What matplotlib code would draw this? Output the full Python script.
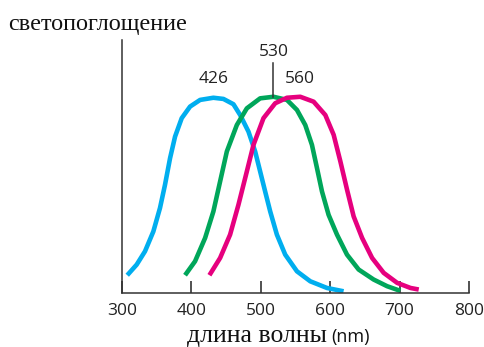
import matplotlib
matplotlib.use("Agg")
import matplotlib.pyplot as plt
import numpy as np

# ---------------------------------------------------------------------------
# Data (wavelength nm, relative absorbance)
# ---------------------------------------------------------------------------

BLUE_NM = [307.6, 321.2, 333.2, 345.2, 354.8, 362.0, 369.3, 376.5, 386.1,
           398.1, 412.6, 431.7, 446.2, 460.6, 470.3, 482.3, 491.9, 499.1,
           506.3, 513.6, 523.2, 535.2, 552.1, 571.3, 595.4, 619.3]
BLUE_Y = [0.090, 0.144, 0.212, 0.313, 0.433, 0.551, 0.687, 0.797, 0.891,
          0.950, 0.984, 0.995, 0.989, 0.962, 0.907, 0.822, 0.721, 0.619,
          0.517, 0.415, 0.297, 0.195, 0.110, 0.059, 0.025, 0.008]

GREEN_NM = [390.9, 405.3, 419.8, 431.7, 441.4, 451.1, 465.5, 479.9, 499.1,
            518.3, 537.7, 552.1, 564.1, 573.7, 581.0, 588.2, 597.7, 609.8,
            624.2, 641.0, 662.6, 682.0, 701.2]
GREEN_Y = [0.090, 0.161, 0.280, 0.415, 0.568, 0.721, 0.856, 0.941, 0.992,
           1.000, 0.984, 0.933, 0.856, 0.755, 0.636, 0.517, 0.398, 0.297,
           0.195, 0.119, 0.068, 0.034, 0.010]

PINK_NM = [426.0, 441.4, 455.8, 467.8, 479.9, 489.5, 503.9, 520.8, 537.7,
           556.9, 576.1, 593.0, 605.0, 614.7, 624.3, 633.8, 646.0, 660.4,
           677.1, 696.5, 715.7, 727.6]
PINK_Y = [0.090, 0.178, 0.297, 0.449, 0.619, 0.755, 0.891, 0.967, 0.995,
          1.000, 0.975, 0.907, 0.806, 0.670, 0.526, 0.390, 0.280, 0.178,
          0.102, 0.051, 0.025, 0.017]

PEAK_LABELS = ["426", "530", "560"]
X_TICKS = [300, 400, 500, 600, 700, 800]

BLUE = "#00aeef"
GREEN = "#00a65a"
PINK = "#e6007e"
INK = "#222222"

fig = plt.figure(figsize=(4.84, 3.47), dpi=100)
ax = fig.add_axes([0.252, 0.156, 0.717, 0.729])

series = [(BLUE_NM, BLUE_Y, BLUE), (GREEN_NM, GREEN_Y, GREEN),
          (PINK_NM, PINK_Y, PINK)]
for nm, y, col in series:
    ax.plot(nm, y, color=col, lw=3.3, solid_capstyle="butt",
            solid_joinstyle="round")

# peak labels above each curve
peaks = [nm[int(np.argmax(y))] for nm, y, _ in series]
tick_font = "Open Sans"
label_y = [1.093, 1.23, 1.093]
for px, ly, txt in zip(peaks, label_y, PEAK_LABELS):
    ax.text(px, ly, txt, ha="center", va="center", fontsize=12.5,
            family=tick_font, color=INK)
ax.plot([peaks[1], peaks[1]], [1.0, 1.17], color="#333333", lw=1.1)

ax.set_xlim(300, 800)
ax.set_ylim(0, 1.29)
ax.set_xticks(X_TICKS)
ax.set_xticklabels([str(t) for t in X_TICKS], family=tick_font, fontsize=12.5)
ax.set_yticks([])
ax.tick_params(axis="x", direction="in", length=9, width=1.1, pad=7,
               colors=INK)
for s in ["top", "right"]:
    ax.spines[s].set_visible(False)
for s in ["left", "bottom"]:
    ax.spines[s].set_linewidth(1.1)
    ax.spines[s].set_color("#333333")

fig.text(0.016, 0.93, "светопоглощение", family="Liberation Serif",
         fontsize=17.5, ha="left", va="center", color="#111111")
fig.text(0.676, 0.014, "длина волны", family="Liberation Serif",
         fontsize=18.5, ha="right", va="baseline", color="#111111")
fig.text(0.684, 0.014, "(nm)", family=tick_font,
         fontsize=13, ha="left", va="baseline", color="#111111")

fig.savefig("out.png", dpi=100)
